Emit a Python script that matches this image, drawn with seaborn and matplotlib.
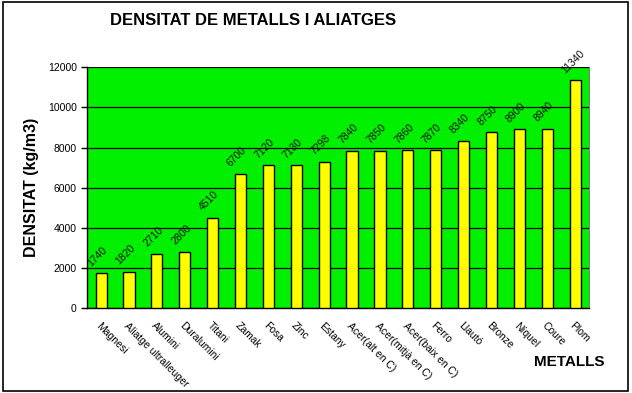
import numpy as np
import pandas as pd
import matplotlib
matplotlib.use("Agg")
import matplotlib.pyplot as plt
import seaborn as sns
from matplotlib.patches import Rectangle

# Dades del gràfic
metalls = ['Magnesi', 'Aliatge ultralleuger', 'Alumini', 'Duralumini', 'Titani',
           'Zamak', 'Fosa', 'Zinc', 'Estany', 'Acer(alt en C)', 'Acer(mitjà en C)',
           'Acer(baix en C)', 'Ferro', 'Llautó', 'Bronze', 'Níquel', 'Coure', 'Plom']
densitats = [1740, 1820, 2710, 2800, 4510, 6700, 7120, 7130, 7298, 7840, 7850,
             7860, 7870, 8340, 8750, 8900, 8940, 11340]
yticks = [0, 2000, 4000, 6000, 8000, 10000, 12000]

sns.set_style("white")
plt.rcParams['font.family'] = ['Liberation Sans', 'DejaVu Sans']
plt.rcParams['text.color'] = 'black'
plt.rcParams['axes.labelcolor'] = 'black'
plt.rcParams['xtick.color'] = 'black'
plt.rcParams['ytick.color'] = 'black'

df = pd.DataFrame({'metall': metalls, 'densitat': densitats})

fig = plt.figure(figsize=(6.32, 3.93), dpi=100)
ax = fig.add_axes([0.138, 0.216, 0.794, 0.613])
ax.set_facecolor('#00f000')

sns.barplot(data=df, x='metall', y='densitat', color='#ffff00', edgecolor='black',
            linewidth=1, width=0.4, saturation=1, ax=ax, zorder=3)

ax.set_ylim(0, 12000)
ax.set_xlim(-0.5, len(metalls) - 0.5)
ax.set_yticks(yticks)
ax.set_yticklabels([str(t) for t in yticks], fontsize=7.5)
ax.yaxis.grid(True, color='black', linewidth=0.9, zorder=1)
ax.set_axisbelow(True)

# etiquetes de categoria sense marca, marques entre categories
ax.set_xticks(range(len(metalls)))
ax.set_xticklabels(metalls, rotation=-45, ha='left', va='top',
                   rotation_mode='anchor', fontsize=7.5)
ax.tick_params(axis='x', length=0, pad=9)
ax.set_xticks(np.arange(-0.5, len(metalls)), minor=True)
ax.tick_params(axis='x', which='minor', length=4, color='black', width=1, direction='out')
ax.tick_params(axis='y', length=4, color='black', width=1, direction='out', left=True)

for s in ['left', 'bottom']:
    ax.spines[s].set_color('black')
    ax.spines[s].set_linewidth(1)
ax.spines['top'].set_visible(False)
ax.spines['right'].set_color('#808080')

# valors sobre les barres
for i, v in enumerate(densitats):
    ax.text(i - 0.3, v + 250, str(v), rotation=45, ha='left', va='bottom',
            rotation_mode='anchor', fontsize=7.5, color='#111111', clip_on=False)

ax.set_xlabel('')
ax.set_ylabel('DENSITAT (kg/m3)', fontsize=11.5, fontweight='bold', labelpad=6)
fig.text(0.4, 0.948, 'DENSITAT DE METALLS I ALIATGES', fontsize=12,
         fontweight='bold', ha='center', va='center')
fig.text(0.9, 0.079, 'METALLS', fontsize=11, fontweight='bold', ha='center', va='center')

fig.patches.append(Rectangle((0.004, 0.006), 0.99, 0.99, transform=fig.transFigure,
                             fill=False, edgecolor='black', linewidth=1.2))

fig.savefig('out.png', dpi=100)
